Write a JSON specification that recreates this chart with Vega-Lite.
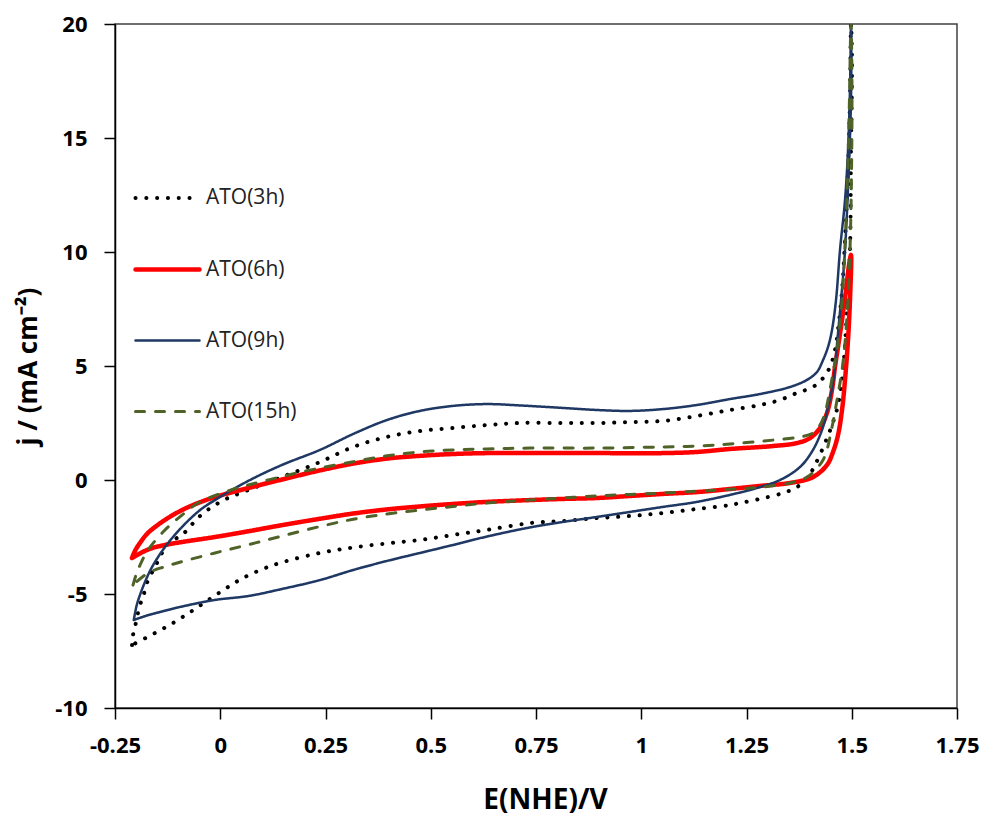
{
  "$schema": "https://vega.github.io/schema/vega-lite/v6.json",
  "width": 842,
  "height": 684,
  "autosize": {"type": "none"},
  "padding": {"left": 115, "top": 24, "right": 27, "bottom": 112},
  "background": "white",
  "config": {
    "font": "Open Sans",
    "view": {"stroke": "#404040", "strokeWidth": 1.5}
  },
  "data": {"values": [
    {"s":"ATO(3h)","i":0,"E":-0.2096,"j":-7.24},{"s":"ATO(3h)","i":1,"E":-0.2072,"j":-6.80},{"s":"ATO(3h)","i":2,"E":-0.2025,"j":-6.45},{"s":"ATO(3h)","i":3,"E":-0.1977,"j":-6.01},{"s":"ATO(3h)","i":4,"E":-0.1906,"j":-5.48},{"s":"ATO(3h)","i":5,"E":-0.1835,"j":-5.13},{"s":"ATO(3h)","i":6,"E":-0.1716,"j":-4.39},{"s":"ATO(3h)","i":7,"E":-0.1550,"j":-3.82},{"s":"ATO(3h)","i":8,"E":-0.1383,"j":-3.20},{"s":"ATO(3h)","i":9,"E":-0.1193,"j":-2.72},{"s":"ATO(3h)","i":10,"E":-0.0908,"j":-2.41},{"s":"ATO(3h)","i":11,"E":-0.0481,"j":-1.58},{"s":"ATO(3h)","i":12,"E":0.0042,"j":-0.92},{"s":"ATO(3h)","i":13,"E":0.0665,"j":-0.44},{"s":"ATO(3h)","i":14,"E":0.1467,"j":0.13},{"s":"ATO(3h)","i":15,"E":0.2369,"j":0.79},{"s":"ATO(3h)","i":16,"E":0.3159,"j":1.45},{"s":"ATO(3h)","i":17,"E":0.3961,"j":1.89},{"s":"ATO(3h)","i":18,"E":0.4745,"j":2.15},{"s":"ATO(3h)","i":19,"E":0.5529,"j":2.28},{"s":"ATO(3h)","i":20,"E":0.6336,"j":2.41},{"s":"ATO(3h)","i":21,"E":0.7120,"j":2.50},{"s":"ATO(3h)","i":22,"E":0.8141,"j":2.50},{"s":"ATO(3h)","i":23,"E":0.8949,"j":2.50},{"s":"ATO(3h)","i":24,"E":0.9733,"j":2.54},{"s":"ATO(3h)","i":25,"E":1.0517,"j":2.59},{"s":"ATO(3h)","i":26,"E":1.1324,"j":2.81},{"s":"ATO(3h)","i":27,"E":1.2108,"j":3.07},{"s":"ATO(3h)","i":28,"E":1.2821,"j":3.29},{"s":"ATO(3h)","i":29,"E":1.3296,"j":3.51},{"s":"ATO(3h)","i":30,"E":1.3700,"j":3.82},{"s":"ATO(3h)","i":31,"E":1.4080,"j":4.08},{"s":"ATO(3h)","i":32,"E":1.4318,"j":4.47},{"s":"ATO(3h)","i":33,"E":1.4484,"j":4.96},{"s":"ATO(3h)","i":34,"E":1.4602,"j":5.70},{"s":"ATO(3h)","i":35,"E":1.4674,"j":6.58},{"s":"ATO(3h)","i":36,"E":1.4769,"j":8.33},{"s":"ATO(3h)","i":37,"E":1.4840,"j":10.53},{"s":"ATO(3h)","i":38,"E":1.4911,"j":13.60},{"s":"ATO(3h)","i":39,"E":1.4958,"j":16.67},{"s":"ATO(3h)","i":40,"E":1.4982,"j":20.0},{"s":"ATO(3h)","i":41,"E":1.5006,"j":18.42},{"s":"ATO(3h)","i":42,"E":1.4982,"j":14.47},{"s":"ATO(3h)","i":43,"E":1.4958,"j":10.09},{"s":"ATO(3h)","i":44,"E":1.4887,"j":7.46},{"s":"ATO(3h)","i":45,"E":1.4792,"j":4.82},{"s":"ATO(3h)","i":46,"E":1.4674,"j":3.29},{"s":"ATO(3h)","i":47,"E":1.4531,"j":2.41},{"s":"ATO(3h)","i":48,"E":1.4365,"j":1.62},{"s":"ATO(3h)","i":49,"E":1.4128,"j":0.66},{"s":"ATO(3h)","i":50,"E":1.3961,"j":0.13},{"s":"ATO(3h)","i":51,"E":1.3700,"j":-0.31},{"s":"ATO(3h)","i":52,"E":1.3367,"j":-0.57},{"s":"ATO(3h)","i":53,"E":1.2821,"j":-0.83},{"s":"ATO(3h)","i":54,"E":1.2346,"j":-1.01},{"s":"ATO(3h)","i":55,"E":1.2108,"j":-1.10},{"s":"ATO(3h)","i":56,"E":1.1324,"j":-1.27},{"s":"ATO(3h)","i":57,"E":1.0517,"j":-1.45},{"s":"ATO(3h)","i":58,"E":0.9733,"j":-1.58},{"s":"ATO(3h)","i":59,"E":0.8949,"j":-1.67},{"s":"ATO(3h)","i":60,"E":0.8141,"j":-1.80},{"s":"ATO(3h)","i":61,"E":0.7357,"j":-1.89},{"s":"ATO(3h)","i":62,"E":0.6336,"j":-2.19},{"s":"ATO(3h)","i":63,"E":0.5529,"j":-2.41},{"s":"ATO(3h)","i":64,"E":0.4745,"j":-2.63},{"s":"ATO(3h)","i":65,"E":0.3961,"j":-2.78},{"s":"ATO(3h)","i":66,"E":0.3153,"j":-2.96},{"s":"ATO(3h)","i":67,"E":0.2369,"j":-3.20},{"s":"ATO(3h)","i":68,"E":0.1490,"j":-3.60},{"s":"ATO(3h)","i":69,"E":0.1015,"j":-3.90},{"s":"ATO(3h)","i":70,"E":0.0540,"j":-4.30},{"s":"ATO(3h)","i":71,"E":0.0113,"j":-4.78},{"s":"ATO(3h)","i":72,"E":-0.0315,"j":-5.30},{"s":"ATO(3h)","i":73,"E":-0.0718,"j":-5.80},{"s":"ATO(3h)","i":74,"E":-0.1146,"j":-6.30},{"s":"ATO(3h)","i":75,"E":-0.1621,"j":-6.78},{"s":"ATO(3h)","i":76,"E":-0.2096,"j":-7.24},
    {"s":"ATO(6h)","i":0,"E":-0.2096,"j":-3.42},{"s":"ATO(6h)","i":1,"E":-0.2025,"j":-3.11},{"s":"ATO(6h)","i":2,"E":-0.1906,"j":-2.76},{"s":"ATO(6h)","i":3,"E":-0.1716,"j":-2.32},{"s":"ATO(6h)","i":4,"E":-0.1312,"j":-1.75},{"s":"ATO(6h)","i":5,"E":-0.0908,"j":-1.32},{"s":"ATO(6h)","i":6,"E":-0.0528,"j":-1.01},{"s":"ATO(6h)","i":7,"E":-0.0125,"j":-0.75},{"s":"ATO(6h)","i":8,"E":0.0665,"j":-0.35},{"s":"ATO(6h)","i":9,"E":0.1467,"j":0.02},{"s":"ATO(6h)","i":10,"E":0.2250,"j":0.37},{"s":"ATO(6h)","i":11,"E":0.3159,"j":0.72},{"s":"ATO(6h)","i":12,"E":0.3961,"j":0.94},{"s":"ATO(6h)","i":13,"E":0.4745,"j":1.06},{"s":"ATO(6h)","i":14,"E":0.5529,"j":1.14},{"s":"ATO(6h)","i":15,"E":0.6336,"j":1.18},{"s":"ATO(6h)","i":16,"E":0.7357,"j":1.18},{"s":"ATO(6h)","i":17,"E":0.8949,"j":1.18},{"s":"ATO(6h)","i":18,"E":1.0517,"j":1.18},{"s":"ATO(6h)","i":19,"E":1.1324,"j":1.23},{"s":"ATO(6h)","i":20,"E":1.2108,"j":1.36},{"s":"ATO(6h)","i":21,"E":1.3130,"j":1.49},{"s":"ATO(6h)","i":22,"E":1.3700,"j":1.62},{"s":"ATO(6h)","i":23,"E":1.4009,"j":1.84},{"s":"ATO(6h)","i":24,"E":1.4247,"j":2.28},{"s":"ATO(6h)","i":25,"E":1.4412,"j":2.94},{"s":"ATO(6h)","i":26,"E":1.4531,"j":3.95},{"s":"ATO(6h)","i":27,"E":1.4602,"j":4.96},{"s":"ATO(6h)","i":28,"E":1.4674,"j":5.83},{"s":"ATO(6h)","i":29,"E":1.4769,"j":7.02},{"s":"ATO(6h)","i":30,"E":1.4864,"j":8.33},{"s":"ATO(6h)","i":31,"E":1.4935,"j":9.43},{"s":"ATO(6h)","i":32,"E":1.4982,"j":9.87},{"s":"ATO(6h)","i":33,"E":1.4958,"j":7.89},{"s":"ATO(6h)","i":34,"E":1.4911,"j":6.14},{"s":"ATO(6h)","i":35,"E":1.4840,"j":4.39},{"s":"ATO(6h)","i":36,"E":1.4769,"j":3.07},{"s":"ATO(6h)","i":37,"E":1.4674,"j":1.97},{"s":"ATO(6h)","i":38,"E":1.4555,"j":1.23},{"s":"ATO(6h)","i":39,"E":1.4412,"j":0.66},{"s":"ATO(6h)","i":40,"E":1.4080,"j":0.13},{"s":"ATO(6h)","i":41,"E":1.3534,"j":-0.13},{"s":"ATO(6h)","i":42,"E":1.2821,"j":-0.26},{"s":"ATO(6h)","i":43,"E":1.2346,"j":-0.35},{"s":"ATO(6h)","i":44,"E":1.1324,"j":-0.53},{"s":"ATO(6h)","i":45,"E":1.0517,"j":-0.61},{"s":"ATO(6h)","i":46,"E":0.9733,"j":-0.70},{"s":"ATO(6h)","i":47,"E":0.8949,"j":-0.79},{"s":"ATO(6h)","i":48,"E":0.8141,"j":-0.83},{"s":"ATO(6h)","i":49,"E":0.7357,"j":-0.88},{"s":"ATO(6h)","i":50,"E":0.6336,"j":-0.96},{"s":"ATO(6h)","i":51,"E":0.5529,"j":-1.05},{"s":"ATO(6h)","i":52,"E":0.4745,"j":-1.16},{"s":"ATO(6h)","i":53,"E":0.3961,"j":-1.29},{"s":"ATO(6h)","i":54,"E":0.3159,"j":-1.47},{"s":"ATO(6h)","i":55,"E":0.2369,"j":-1.70},{"s":"ATO(6h)","i":56,"E":0.1467,"j":-1.98},{"s":"ATO(6h)","i":57,"E":0.0665,"j":-2.25},{"s":"ATO(6h)","i":58,"E":-0.0125,"j":-2.50},{"s":"ATO(6h)","i":59,"E":-0.0908,"j":-2.72},{"s":"ATO(6h)","i":60,"E":-0.1312,"j":-2.85},{"s":"ATO(6h)","i":61,"E":-0.1716,"j":-3.05},{"s":"ATO(6h)","i":62,"E":-0.2096,"j":-3.42},
    {"s":"ATO(9h)","i":0,"E":-0.2054,"j":-6.14},{"s":"ATO(9h)","i":1,"E":-0.1983,"j":-5.48},{"s":"ATO(9h)","i":2,"E":-0.1906,"j":-5.04},{"s":"ATO(9h)","i":3,"E":-0.1787,"j":-4.47},{"s":"ATO(9h)","i":4,"E":-0.1621,"j":-3.82},{"s":"ATO(9h)","i":5,"E":-0.1312,"j":-2.94},{"s":"ATO(9h)","i":6,"E":-0.0908,"j":-2.06},{"s":"ATO(9h)","i":7,"E":-0.0481,"j":-1.32},{"s":"ATO(9h)","i":8,"E":-0.0125,"j":-0.88},{"s":"ATO(9h)","i":9,"E":0.0665,"j":-0.04},{"s":"ATO(9h)","i":10,"E":0.1467,"j":0.66},{"s":"ATO(9h)","i":11,"E":0.2369,"j":1.32},{"s":"ATO(9h)","i":12,"E":0.3159,"j":2.02},{"s":"ATO(9h)","i":13,"E":0.3961,"j":2.63},{"s":"ATO(9h)","i":14,"E":0.4745,"j":3.03},{"s":"ATO(9h)","i":15,"E":0.5529,"j":3.25},{"s":"ATO(9h)","i":16,"E":0.6336,"j":3.33},{"s":"ATO(9h)","i":17,"E":0.7120,"j":3.27},{"s":"ATO(9h)","i":18,"E":0.8141,"j":3.16},{"s":"ATO(9h)","i":19,"E":0.8949,"j":3.07},{"s":"ATO(9h)","i":20,"E":0.9733,"j":3.03},{"s":"ATO(9h)","i":21,"E":1.0517,"j":3.11},{"s":"ATO(9h)","i":22,"E":1.1324,"j":3.29},{"s":"ATO(9h)","i":23,"E":1.2108,"j":3.55},{"s":"ATO(9h)","i":24,"E":1.2821,"j":3.77},{"s":"ATO(9h)","i":25,"E":1.3534,"j":4.08},{"s":"ATO(9h)","i":26,"E":1.3937,"j":4.39},{"s":"ATO(9h)","i":27,"E":1.4175,"j":4.74},{"s":"ATO(9h)","i":28,"E":1.4318,"j":5.26},{"s":"ATO(9h)","i":29,"E":1.4436,"j":5.83},{"s":"ATO(9h)","i":30,"E":1.4531,"j":6.58},{"s":"ATO(9h)","i":31,"E":1.4626,"j":7.89},{"s":"ATO(9h)","i":32,"E":1.4721,"j":10.09},{"s":"ATO(9h)","i":33,"E":1.4840,"j":12.28},{"s":"ATO(9h)","i":34,"E":1.4911,"j":14.47},{"s":"ATO(9h)","i":35,"E":1.4958,"j":17.11},{"s":"ATO(9h)","i":36,"E":1.4982,"j":20.0},{"s":"ATO(9h)","i":37,"E":1.4982,"j":16.67},{"s":"ATO(9h)","i":38,"E":1.4840,"j":10.09},{"s":"ATO(9h)","i":39,"E":1.4745,"j":7.89},{"s":"ATO(9h)","i":40,"E":1.4674,"j":6.45},{"s":"ATO(9h)","i":41,"E":1.4555,"j":4.25},{"s":"ATO(9h)","i":42,"E":1.4436,"j":3.20},{"s":"ATO(9h)","i":43,"E":1.4318,"j":2.32},{"s":"ATO(9h)","i":44,"E":1.4080,"j":1.32},{"s":"ATO(9h)","i":45,"E":1.3771,"j":0.57},{"s":"ATO(9h)","i":46,"E":1.3296,"j":0.0},{"s":"ATO(9h)","i":47,"E":1.2750,"j":-0.35},{"s":"ATO(9h)","i":48,"E":1.2346,"j":-0.55},{"s":"ATO(9h)","i":49,"E":1.1324,"j":-0.96},{"s":"ATO(9h)","i":50,"E":1.0517,"j":-1.18},{"s":"ATO(9h)","i":51,"E":0.9733,"j":-1.40},{"s":"ATO(9h)","i":52,"E":0.8949,"j":-1.62},{"s":"ATO(9h)","i":53,"E":0.8141,"j":-1.84},{"s":"ATO(9h)","i":54,"E":0.7357,"j":-2.08},{"s":"ATO(9h)","i":55,"E":0.6336,"j":-2.48},{"s":"ATO(9h)","i":56,"E":0.5529,"j":-2.85},{"s":"ATO(9h)","i":57,"E":0.4745,"j":-3.20},{"s":"ATO(9h)","i":58,"E":0.3961,"j":-3.55},{"s":"ATO(9h)","i":59,"E":0.3153,"j":-3.95},{"s":"ATO(9h)","i":60,"E":0.2369,"j":-4.39},{"s":"ATO(9h)","i":61,"E":0.1467,"j":-4.78},{"s":"ATO(9h)","i":62,"E":0.0665,"j":-5.09},{"s":"ATO(9h)","i":63,"E":-0.0125,"j":-5.26},{"s":"ATO(9h)","i":64,"E":-0.0908,"j":-5.55},{"s":"ATO(9h)","i":65,"E":-0.1431,"j":-5.79},{"s":"ATO(9h)","i":66,"E":-0.1716,"j":-5.93},{"s":"ATO(9h)","i":67,"E":-0.2054,"j":-6.14},
    {"s":"ATO(15h)","i":0,"E":-0.2072,"j":-4.61},{"s":"ATO(15h)","i":1,"E":-0.2001,"j":-4.17},{"s":"ATO(15h)","i":2,"E":-0.1906,"j":-3.73},{"s":"ATO(15h)","i":3,"E":-0.1716,"j":-3.07},{"s":"ATO(15h)","i":4,"E":-0.1312,"j":-2.19},{"s":"ATO(15h)","i":5,"E":-0.0908,"j":-1.54},{"s":"ATO(15h)","i":6,"E":-0.0528,"j":-1.01},{"s":"ATO(15h)","i":7,"E":0.0042,"j":-0.57},{"s":"ATO(15h)","i":8,"E":0.0665,"j":-0.22},{"s":"ATO(15h)","i":9,"E":0.1467,"j":0.15},{"s":"ATO(15h)","i":10,"E":0.2250,"j":0.48},{"s":"ATO(15h)","i":11,"E":0.3159,"j":0.80},{"s":"ATO(15h)","i":12,"E":0.3961,"j":1.06},{"s":"ATO(15h)","i":13,"E":0.4745,"j":1.23},{"s":"ATO(15h)","i":14,"E":0.5529,"j":1.32},{"s":"ATO(15h)","i":15,"E":0.6336,"j":1.36},{"s":"ATO(15h)","i":16,"E":0.7357,"j":1.40},{"s":"ATO(15h)","i":17,"E":0.8949,"j":1.40},{"s":"ATO(15h)","i":18,"E":1.0517,"j":1.45},{"s":"ATO(15h)","i":19,"E":1.1324,"j":1.49},{"s":"ATO(15h)","i":20,"E":1.2108,"j":1.58},{"s":"ATO(15h)","i":21,"E":1.3130,"j":1.75},{"s":"ATO(15h)","i":22,"E":1.3771,"j":1.89},{"s":"ATO(15h)","i":23,"E":1.4080,"j":2.06},{"s":"ATO(15h)","i":24,"E":1.4247,"j":2.41},{"s":"ATO(15h)","i":25,"E":1.4365,"j":2.94},{"s":"ATO(15h)","i":26,"E":1.4436,"j":3.51},{"s":"ATO(15h)","i":27,"E":1.4555,"j":4.69},{"s":"ATO(15h)","i":28,"E":1.4650,"j":5.70},{"s":"ATO(15h)","i":29,"E":1.4769,"j":7.89},{"s":"ATO(15h)","i":30,"E":1.4864,"j":11.40},{"s":"ATO(15h)","i":31,"E":1.4935,"j":15.79},{"s":"ATO(15h)","i":32,"E":1.4982,"j":20.0},{"s":"ATO(15h)","i":33,"E":1.5006,"j":16.67},{"s":"ATO(15h)","i":34,"E":1.4958,"j":10.09},{"s":"ATO(15h)","i":35,"E":1.4864,"j":6.58},{"s":"ATO(15h)","i":36,"E":1.4769,"j":4.82},{"s":"ATO(15h)","i":37,"E":1.4650,"j":3.51},{"s":"ATO(15h)","i":38,"E":1.4531,"j":2.32},{"s":"ATO(15h)","i":39,"E":1.4318,"j":0.88},{"s":"ATO(15h)","i":40,"E":1.3937,"j":0.13},{"s":"ATO(15h)","i":41,"E":1.3534,"j":-0.13},{"s":"ATO(15h)","i":42,"E":1.2750,"j":-0.33},{"s":"ATO(15h)","i":43,"E":1.2108,"j":-0.41},{"s":"ATO(15h)","i":44,"E":1.0517,"j":-0.57},{"s":"ATO(15h)","i":45,"E":0.8949,"j":-0.70},{"s":"ATO(15h)","i":46,"E":0.7357,"j":-0.88},{"s":"ATO(15h)","i":47,"E":0.6336,"j":-1.01},{"s":"ATO(15h)","i":48,"E":0.5529,"j":-1.16},{"s":"ATO(15h)","i":49,"E":0.4745,"j":-1.32},{"s":"ATO(15h)","i":50,"E":0.3961,"j":-1.49},{"s":"ATO(15h)","i":51,"E":0.3159,"j":-1.72},{"s":"ATO(15h)","i":52,"E":0.2369,"j":-2.04},{"s":"ATO(15h)","i":53,"E":0.1467,"j":-2.46},{"s":"ATO(15h)","i":54,"E":0.0665,"j":-2.84},{"s":"ATO(15h)","i":55,"E":-0.0125,"j":-3.20},{"s":"ATO(15h)","i":56,"E":-0.0908,"j":-3.58},{"s":"ATO(15h)","i":57,"E":-0.1312,"j":-3.80},{"s":"ATO(15h)","i":58,"E":-0.1716,"j":-4.08},{"s":"ATO(15h)","i":59,"E":-0.2072,"j":-4.61}
  ]},
  "mark": {"type": "line", "interpolate": "catmull-rom", "strokeCap": "round", "strokeJoin": "round", "clip": true},
  "encoding": {
    "x": {
      "field": "E", "type": "quantitative",
      "scale": {"domain": [-0.25, 1.75], "nice": false, "zero": false},
      "axis": {
        "title": "E(NHE)/V",
        "values": [-0.25, 0, 0.25, 0.5, 0.75, 1, 1.25, 1.5, 1.75],
        "labelExpr": "datum.value + ''",
        "grid": false,
        "domainColor": "#000", "domainWidth": 1.5,
        "tickColor": "#000", "tickWidth": 1.5, "tickSize": 11,
        "labelFont": "Open Sans", "labelFontWeight": "bold", "labelFontSize": 22, "labelColor": "#000",
        "labelBaseline": "middle", "labelPadding": 26,
        "labelFlush": false, "labelOverlap": false,
        "titleFont": "Open Sans", "titleFontWeight": "bold", "titleFontSize": 28, "titleColor": "#000",
        "titleBaseline": "middle", "titleX": 430, "titleY": 92
      }
    },
    "y": {
      "field": "j", "type": "quantitative",
      "scale": {"domain": [-10, 20], "nice": false, "zero": false},
      "axis": {
        "title": "j / (mA cm⁻²)",
        "values": [-10, -5, 0, 5, 10, 15, 20],
        "labelExpr": "datum.value + ''",
        "grid": false,
        "domainColor": "#000", "domainWidth": 1.5,
        "tickColor": "#000", "tickWidth": 1.5, "tickSize": 11,
        "labelFont": "Open Sans", "labelFontWeight": "bold", "labelFontSize": 22, "labelColor": "#000",
        "labelPadding": 17, "labelFlush": false, "labelOverlap": false,
        "titleFont": "Open Sans", "titleFontWeight": "bold", "titleFontSize": 26, "titleColor": "#000",
        "titleBaseline": "middle", "titleX": -87, "titleY": 342, "titleAngle": -90
      }
    },
    "order": {"field": "i", "type": "quantitative"},
    "color": {
      "field": "s", "type": "nominal",
      "scale": {"domain": ["ATO(3h)", "ATO(6h)", "ATO(9h)", "ATO(15h)"], "range": ["#000000", "#FF0000", "#1F3864", "#4F6228"]},
      "legend": {"orient": "none", "legendX": 18, "legendY": 140, "title": null, "symbolType": "stroke", "symbolSize": 4096, "labelFont": "Open Sans", "labelFontSize": 21, "labelColor": "#222", "labelOffset": 4, "rowPadding": 27, "padding": 0, "encode": {"symbols": {"update": {"strokeCap": {"value": "round"}}}}}
    },
    "strokeDash": {
      "field": "s", "type": "nominal",
      "scale": {"domain": ["ATO(3h)", "ATO(6h)", "ATO(9h)", "ATO(15h)"], "range": [[0.1, 10.7], [1, 0], [1, 0], [9, 11]]},
      "legend": {"orient": "none", "legendX": 18, "legendY": 140, "title": null, "symbolType": "stroke", "symbolSize": 4096, "labelFont": "Open Sans", "labelFontSize": 21, "labelColor": "#222", "labelOffset": 4, "rowPadding": 27, "padding": 0, "encode": {"symbols": {"update": {"strokeCap": {"value": "round"}}}}}
    },
    "strokeWidth": {
      "field": "s", "type": "nominal",
      "scale": {"type": "ordinal", "domain": ["ATO(3h)", "ATO(6h)", "ATO(9h)", "ATO(15h)"], "range": [4, 4.5, 2.5, 3]},
      "legend": {"orient": "none", "legendX": 18, "legendY": 140, "title": null, "symbolType": "stroke", "symbolSize": 4096, "labelFont": "Open Sans", "labelFontSize": 21, "labelColor": "#222", "labelOffset": 4, "rowPadding": 27, "padding": 0, "encode": {"symbols": {"update": {"strokeCap": {"value": "round"}}}}}
    }
  }
}
